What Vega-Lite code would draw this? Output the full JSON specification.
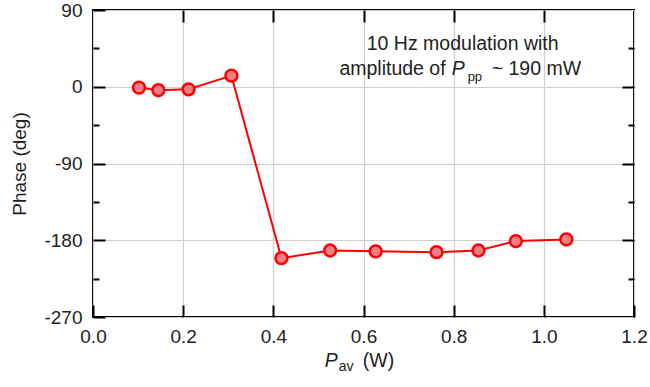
{
  "$schema": "https://vega.github.io/schema/vega-lite/v6.json",
  "width": 541,
  "height": 307,
  "autosize": {"type": "none"},
  "padding": {"left": 93, "top": 10, "right": 16, "bottom": 70},
  "background": "white",
  "config": {
    "view": {"stroke": "black", "strokeWidth": 2},
    "font": "Liberation Sans",
    "scale": {"zero": false},
    "axis": {"domain": false, "labelFont": "Liberation Sans", "titleFont": "Liberation Sans", "tickColor": "black", "tickWidth": 2, "labelColor": "#222", "titleColor": "#222"}
  },
  "data": {"values": [
    {"pav": 0.102, "phase": -1},
    {"pav": 0.145, "phase": -4},
    {"pav": 0.212, "phase": -3},
    {"pav": 0.307, "phase": 13},
    {"pav": 0.418, "phase": -201},
    {"pav": 0.526, "phase": -192},
    {"pav": 0.627, "phase": -193},
    {"pav": 0.762, "phase": -194},
    {"pav": 0.855, "phase": -192},
    {"pav": 0.938, "phase": -181},
    {"pav": 1.050, "phase": -179}
  ]},
  "resolve": {"axis": {"x": "independent", "y": "independent"}},
  "layer": [
    {
      "mark": {"type": "line", "color": "#ff0000", "strokeWidth": 2},
      "encoding": {
        "x": {"field": "pav", "type": "quantitative", "scale": {"domain": [0, 1.2], "nice": false},
          "axis": {"orient": "bottom", "values": [0, 0.2, 0.4, 0.6, 0.8, 1.0, 1.2], "format": ".1f", "tickSize": -12, "labelPadding": 22, "labelFontSize": 19, "grid": true, "gridColor": "#cfcfcf", "gridWidth": 1.2, "title": null, "labelFlush": false}},
        "y": {"field": "phase", "type": "quantitative", "scale": {"domain": [-270, 90], "nice": false},
          "axis": {"orient": "left", "values": [-270, -180, -90, 0, 90], "labelExpr": "datum.value + ''", "tickSize": -12, "labelPadding": 23, "labelFontSize": 19, "grid": true, "gridColor": "#cfcfcf", "gridWidth": 1.2, "title": "Phase (deg)", "titleFontSize": 19, "titleFontWeight": "normal", "titlePadding": 14, "labelFlush": false}}
      }
    },
    {
      "mark": {"type": "point", "filled": true, "fill": "#f27f86", "fillOpacity": 1, "stroke": "#ff0000", "strokeWidth": 2.5, "size": 140, "opacity": 1},
      "encoding": {
        "x": {"field": "pav", "type": "quantitative", "scale": {"domain": [0, 1.2], "nice": false}, "axis": null},
        "y": {"field": "phase", "type": "quantitative", "scale": {"domain": [-270, 90], "nice": false}, "axis": null}
      }
    },
    {
      "mark": {"type": "point", "opacity": 0},
      "encoding": {
        "x": {"field": "pav", "type": "quantitative", "scale": {"domain": [0, 1.2], "nice": false},
          "axis": {"orient": "top", "values": [0.2, 0.4, 0.6, 0.8, 1.0], "tickSize": -12, "labels": false, "grid": false, "title": null}},
        "y": {"field": "phase", "type": "quantitative", "scale": {"domain": [-270, 90], "nice": false},
          "axis": {"orient": "right", "values": [-180, -90, 0], "tickSize": -12, "labels": false, "grid": false, "title": null}}
      }
    },
    {
      "mark": {"type": "point", "opacity": 0},
      "encoding": {
        "x": {"field": "pav", "type": "quantitative", "scale": {"domain": [0, 1.2], "nice": false}, "axis": null},
        "y": {"field": "phase", "type": "quantitative", "scale": {"domain": [-270, 90], "nice": false},
          "axis": {"orient": "left", "values": [-225, -135, -45, 45], "tickSize": -6, "labels": false, "grid": false, "title": null}}
      }
    },
    {
      "mark": {"type": "point", "opacity": 0},
      "encoding": {
        "x": {"field": "pav", "type": "quantitative", "scale": {"domain": [0, 1.2], "nice": false}, "axis": null},
        "y": {"field": "phase", "type": "quantitative", "scale": {"domain": [-270, 90], "nice": false},
          "axis": {"orient": "right", "values": [-225, -135, -45, 45], "tickSize": -6, "labels": false, "grid": false, "title": null}}
      }
    },
    {
      "data": {"values": [
        {"x": 0.82, "y": 43, "t": "10 Hz modulation with"}
      ]},
      "mark": {"type": "text", "fontSize": 19.5, "align": "center", "baseline": "alphabetic", "color": "#222"},
      "encoding": {
        "x": {"field": "x", "type": "quantitative", "scale": {"domain": [0, 1.2], "nice": false}, "axis": null},
        "y": {"field": "y", "type": "quantitative", "scale": {"domain": [-270, 90], "nice": false}, "axis": null},
        "text": {"field": "t"}
      }
    },
    {
      "data": {"values": [{"x": 0.7955, "y": 14, "t": "amplitude of"}]},
      "mark": {"type": "text", "fontSize": 19.5, "align": "right", "baseline": "alphabetic", "dx": -6, "color": "#222"},
      "encoding": {
        "x": {"field": "x", "type": "quantitative", "scale": {"domain": [0, 1.2], "nice": false}, "axis": null},
        "y": {"field": "y", "type": "quantitative", "scale": {"domain": [-270, 90], "nice": false}, "axis": null},
        "text": {"field": "t"}
      }
    },
    {
      "data": {"values": [{"x": 0.7955, "y": 14, "t": "P"}]},
      "mark": {"type": "text", "fontSize": 19.5, "fontStyle": "italic", "align": "left", "baseline": "alphabetic", "color": "#222"},
      "encoding": {
        "x": {"field": "x", "type": "quantitative", "scale": {"domain": [0, 1.2], "nice": false}, "axis": null},
        "y": {"field": "y", "type": "quantitative", "scale": {"domain": [-270, 90], "nice": false}, "axis": null},
        "text": {"field": "t"}
      }
    },
    {
      "data": {"values": [{"x": 0.7955, "y": 14, "t": "pp"}]},
      "mark": {"type": "text", "fontSize": 13, "align": "left", "baseline": "alphabetic", "dx": 16, "dy": 6, "color": "#222"},
      "encoding": {
        "x": {"field": "x", "type": "quantitative", "scale": {"domain": [0, 1.2], "nice": false}, "axis": null},
        "y": {"field": "y", "type": "quantitative", "scale": {"domain": [-270, 90], "nice": false}, "axis": null},
        "text": {"field": "t"}
      }
    },
    {
      "data": {"values": [{"x": 0.7955, "y": 14, "t": "~ 190 mW"}]},
      "mark": {"type": "text", "fontSize": 19.5, "align": "left", "baseline": "alphabetic", "dx": 40, "color": "#222"},
      "encoding": {
        "x": {"field": "x", "type": "quantitative", "scale": {"domain": [0, 1.2], "nice": false}, "axis": null},
        "y": {"field": "y", "type": "quantitative", "scale": {"domain": [-270, 90], "nice": false}, "axis": null},
        "text": {"field": "t"}
      }
    },
    {
      "data": {"values": [{"x": 0.514, "y": -270, "t": "P"}]},
      "mark": {"type": "text", "fontSize": 19.5, "fontStyle": "italic", "align": "left", "baseline": "alphabetic", "dy": 50, "clip": false, "color": "#222"},
      "encoding": {
        "x": {"field": "x", "type": "quantitative", "scale": {"domain": [0, 1.2], "nice": false}, "axis": null},
        "y": {"field": "y", "type": "quantitative", "scale": {"domain": [-270, 90], "nice": false}, "axis": null},
        "text": {"field": "t"}
      }
    },
    {
      "data": {"values": [{"x": 0.514, "y": -270, "t": "av"}]},
      "mark": {"type": "text", "fontSize": 14, "align": "left", "baseline": "alphabetic", "dx": 14, "dy": 54, "clip": false, "color": "#222"},
      "encoding": {
        "x": {"field": "x", "type": "quantitative", "scale": {"domain": [0, 1.2], "nice": false}, "axis": null},
        "y": {"field": "y", "type": "quantitative", "scale": {"domain": [-270, 90], "nice": false}, "axis": null},
        "text": {"field": "t"}
      }
    },
    {
      "data": {"values": [{"x": 0.514, "y": -270, "t": "(W)"}]},
      "mark": {"type": "text", "fontSize": 19.5, "align": "left", "baseline": "alphabetic", "dx": 38, "dy": 50, "clip": false, "color": "#222"},
      "encoding": {
        "x": {"field": "x", "type": "quantitative", "scale": {"domain": [0, 1.2], "nice": false}, "axis": null},
        "y": {"field": "y", "type": "quantitative", "scale": {"domain": [-270, 90], "nice": false}, "axis": null},
        "text": {"field": "t"}
      }
    }
  ]
}
